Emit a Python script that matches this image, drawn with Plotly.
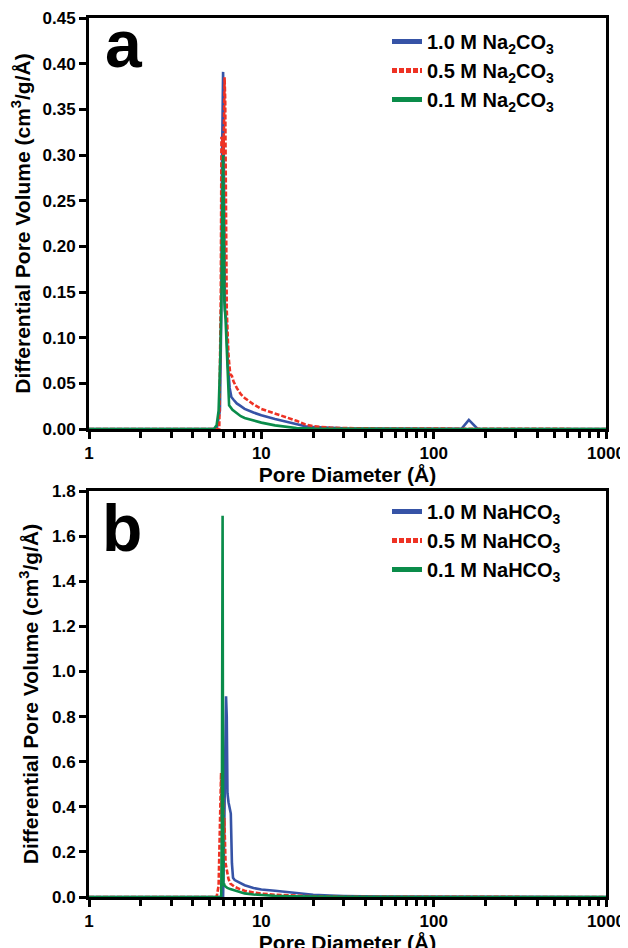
import plotly.graph_objects as go

# ---------------- Panel a data (Na2CO3) ----------------
a_names = ["1.0 M Na<sub>2</sub>CO<sub>3</sub>", "0.5 M Na<sub>2</sub>CO<sub>3</sub>", "0.1 M Na<sub>2</sub>CO<sub>3</sub>"]

a1_x = [1, 5.5, 5.75, 5.85, 5.92, 5.97, 6.0, 6.04, 6.08, 6.15, 6.25, 6.4, 6.55, 6.7, 6.9, 7.2, 7.6, 8, 9, 10, 12, 14, 16, 18, 20, 25, 30, 40, 60, 100, 145, 160, 180, 250, 1000]
a1_y = [0, 0, 0.02, 0.12, 0.30, 0.39, 0.391, 0.33, 0.22, 0.13, 0.12, 0.07, 0.045, 0.035, 0.032, 0.028, 0.025, 0.022, 0.018, 0.015, 0.011, 0.008, 0.005, 0.003, 0.002, 0.001, 0.0007, 0.0004, 0.0002, 0.0001, 0.0002, 0.010, 0.0, 0, 0]

a2_x = [1, 5.7, 5.82, 5.87, 5.92, 5.97, 6.02, 6.07, 6.12, 6.17, 6.22, 6.3, 6.45, 6.6, 6.75, 6.9, 7.2, 7.6, 8, 9, 10, 12, 14, 16, 18, 20, 25, 30, 50, 100, 1000]
a2_y = [0, 0, 0.15, 0.32, 0.31, 0.32, 0.30, 0.33, 0.385, 0.36, 0.25, 0.13, 0.08, 0.06, 0.058, 0.052, 0.045, 0.038, 0.034, 0.027, 0.022, 0.017, 0.013, 0.009, 0.005, 0.003, 0.0015, 0.001, 0.0005, 0.0003, 0]

a3_x = [1, 5.3, 5.5, 5.65, 5.78, 5.88, 5.95, 6.0, 6.05, 6.1, 6.2, 6.35, 6.5, 6.8, 7.2, 7.6, 8, 9, 10, 12, 14, 16, 20, 30, 100, 1000]
a3_y = [0, 0, 0.004, 0.02, 0.08, 0.15, 0.25, 0.30, 0.24, 0.14, 0.12, 0.06, 0.026, 0.021, 0.017, 0.014, 0.012, 0.009, 0.007, 0.004, 0.002, 0.001, 0.0005, 0.0002, 0, 0]

# ---------------- Panel b data (NaHCO3) ----------------
b_names = ["1.0 M NaHCO<sub>3</sub>", "0.5 M NaHCO<sub>3</sub>", "0.1 M NaHCO<sub>3</sub>"]

b1_x = [1, 6.0, 6.08, 6.12, 6.18, 6.24, 6.3, 6.36, 6.45, 6.55, 6.65, 6.75, 6.85, 7.0, 7.5, 8, 9, 10, 12, 14, 16, 20, 25, 30, 50, 100, 1000]
b1_y = [0, 0, 0.25, 0.40, 0.50, 0.89, 0.80, 0.46, 0.42, 0.39, 0.37, 0.15, 0.085, 0.075, 0.062, 0.052, 0.04, 0.033, 0.028, 0.022, 0.016, 0.01, 0.006, 0.004, 0.002, 0.001, 0]

b2_x = [1, 5.5, 5.65, 5.75, 5.8, 5.84, 5.88, 5.92, 5.96, 6.0, 6.05, 6.1, 6.2, 6.3, 6.45, 6.6, 7.0, 7.5, 8, 9, 10, 12, 15, 20, 30, 50, 100, 1000]
b2_y = [0, 0, 0.05, 0.3, 0.5, 0.55, 0.35, 0.47, 0.30, 0.44, 0.25, 0.35, 0.15, 0.12, 0.08, 0.06, 0.045, 0.035, 0.028, 0.02, 0.015, 0.01, 0.006, 0.003, 0.001, 0.0005, 0.0002, 0]

b3_x = [1, 5.85, 5.9, 5.93, 5.96, 5.99, 6.02, 6.05, 6.08, 6.12, 6.2, 6.35, 6.6, 7.0, 7.5, 8, 9, 10, 12, 15, 20, 30, 100, 1000]
b3_y = [0, 0, 0.3, 1.2, 1.69, 0.6, 0.05, 0.28, 0.06, 0.05, 0.045, 0.04, 0.035, 0.03, 0.022, 0.016, 0.011, 0.008, 0.005, 0.003, 0.001, 0.0005, 0, 0]

x_ticks = [1, 10, 100, 1000]
a_yticks = [0.00, 0.05, 0.10, 0.15, 0.20, 0.25, 0.30, 0.35, 0.40, 0.45]
b_yticks = [0.0, 0.2, 0.4, 0.6, 0.8, 1.0, 1.2, 1.4, 1.6, 1.8]

x_title = "Pore Diameter (Å)"
y_title = "Differential Pore Volume (cm<sup>3</sup>/g/Å)"

colors = ["#3653A6", "#EE3224", "#0A8C4A"]
dashes = ["solid", "5px,2px", "solid"]

FONT = "Liberation Sans, Arial, sans-serif"

fig = go.Figure()
a_series = [(a1_x, a1_y), (a2_x, a2_y), (a3_x, a3_y)]
b_series = [(b1_x, b1_y), (b2_x, b2_y), (b3_x, b3_y)]
for i, (xs, ys) in enumerate(a_series):
    fig.add_trace(go.Scatter(x=xs, y=ys, mode="lines", name=a_names[i],
                             line=dict(color=colors[i], width=2.6, dash=dashes[i]),
                             xaxis="x", yaxis="y", legend="legend"))
for i, (xs, ys) in enumerate(b_series):
    fig.add_trace(go.Scatter(x=xs, y=ys, mode="lines", name=b_names[i],
                             line=dict(color=colors[i], width=2.6, dash=dashes[i]),
                             xaxis="x2", yaxis="y2", legend="legend2"))

# The page places the figure 8 px in from the top-left corner; positions below
# are given in screen pixels and converted to figure pixels.
OFF = 8
W, H = 628, 948
L, R, T, B = 89 - OFF, 606 - OFF, 18 - OFF, 897 - OFF   # plot area (figure px)
PW, PH = R - L, B - T

def px(xs):           # screen x -> paper fraction
    return (xs - OFF - L) / PW

def py(ys):           # screen y -> paper fraction
    return (B - (ys - OFF)) / PH

ydom_a = [py(429), 1]
ydom_b = [0, py(491)]

minor_vals = [m * 10 ** d for d in range(0, 3) for m in range(2, 10)]

def xaxis(anchor):
    return dict(type="log", domain=[0, 1], anchor=anchor, range=[0, 3], automargin=False,
                tickvals=x_ticks, ticktext=[str(v) for v in x_ticks],
                ticks="outside", ticklen=7, tickwidth=3, tickcolor="black",
                showline=True, linewidth=3, linecolor="black", mirror=True,
                showgrid=False, zeroline=False,
                minor=dict(tickvals=minor_vals, ticks="outside", ticklen=6, tickwidth=2.5,
                           tickcolor="black", showgrid=False),
                tickfont=dict(family=FONT, size=17, color="black", weight="bold"),
                title=dict(text="<b>" + x_title + "</b>", standoff=0,
                           font=dict(family=FONT, size=21, color="black")))

def yaxis(anchor, dom, rng, vals, fmt):
    return dict(domain=dom, anchor=anchor, range=rng, automargin=False,
                tickvals=vals, ticktext=[fmt.format(v) for v in vals],
                ticks="outside", ticklen=7, tickwidth=3, tickcolor="black",
                showline=True, linewidth=3, linecolor="black", mirror=True,
                showgrid=False, zeroline=False,
                tickfont=dict(family=FONT, size=17, color="black", weight="bold"),
                title=dict(text="<b>" + y_title + "</b>", standoff=8,
                           font=dict(family=FONT, size=21, color="black")))

legend_common = dict(bgcolor="rgba(0,0,0,0)", borderwidth=0, xanchor="left", yanchor="top",
                     font=dict(family=FONT, size=20, color="black", weight="bold"),
                     itemwidth=30, tracegroupgap=0, itemsizing="constant")

def label(text, xs, ys, size):
    return dict(text="<b>" + text + "</b>", x=px(xs), y=py(ys), xref="paper", yref="paper",
                xanchor="center", yanchor="middle", showarrow=False,
                font=dict(family=FONT, size=size, color="black"))

fig.update_layout(
    width=W, height=H,
    margin=dict(l=L, r=W - R, t=T, b=H - B, autoexpand=False),
    paper_bgcolor="white", plot_bgcolor="white",
    xaxis=xaxis("y"),
    yaxis=yaxis("x", ydom_a, [0, 0.45], a_yticks, "{:.2f}"),
    xaxis2=xaxis("y2"),
    yaxis2=yaxis("x2", ydom_b, [0, 1.8], b_yticks, "{:.1f}"),
    legend=dict(x=px(387), y=py(22), **legend_common),
    legend2=dict(x=px(387), y=py(492), **legend_common),
    annotations=[
        label("a", 124, 44, 66),
        label("b", 122, 528, 66),
    ],
)

fig.write_html("out.html", default_width="628px", default_height="948px")
